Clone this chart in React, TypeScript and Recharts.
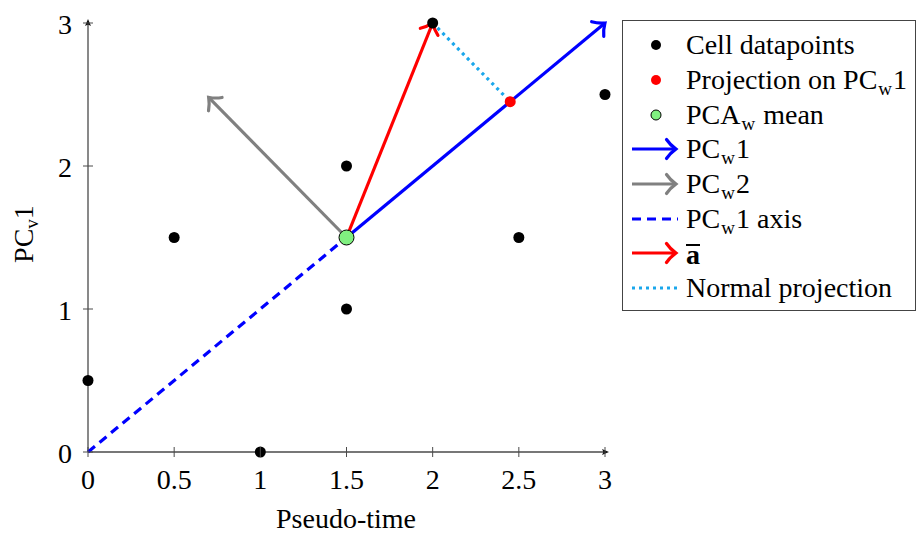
import { ComposedChart, XAxis, YAxis, Scatter, ReferenceLine } from 'recharts'

// cell datapoints
const cellX = [0, 0.5, 1, 1.5, 1.5, 2, 2.5, 3]
const cellY = [0.5, 1.5, 0, 1, 2, 3, 1.5, 2.5]

const meanPoint = [1.5, 1.5]
const projPoint = [2.45, 2.45]
const pc1Tip = [3, 3]
const pc2Tip = [0.7, 2.48]
const aBarTip = [2, 3]
const axisStart = [0, 0]

const xTicks = [0, 0.5, 1, 1.5, 2, 2.5, 3]
const yTicks = [0, 1, 2, 3]

const FONT = '"Times New Roman", "Liberation Serif", serif'
const FS = 28
const SUB = 19
const BLUE = '#0000ff'
const GRAY = '#808080'
const RED = '#ff0000'
const CYAN = '#1aa7ec'
const GREEN = '#80f080'
const AXIS = '#4a4a4a'

const cells = cellX.map((x, i) => ({ x, y: cellY[i] }))
const mean = [{ x: meanPoint[0], y: meanPoint[1] }]
const proj = [{ x: projPoint[0], y: projPoint[1] }]

function Head({ x, y, angle, color, s = 9.5, w = 3.2 }: any) {
  const d = `M ${-s} ${-s} C ${-s * 0.55} ${-s * 0.35} ${-s * 0.1} ${-s * 0.08} 0 0 C ${-s * 0.1} ${s * 0.08} ${-s * 0.55} ${s * 0.35} ${-s} ${s}`
  return (
    <path
      d={d}
      transform={`translate(${x},${y}) rotate(${(angle * 180) / Math.PI})`}
      fill="none"
      stroke={color}
      strokeWidth={w}
      strokeLinecap="round"
    />
  )
}

const arrowShape = (color: string) => (p: any) => {
  const { x1, y1, x2, y2 } = p
  const a = Math.atan2(y2 - y1, x2 - x1)
  return (
    <g>
      <line x1={x1} y1={y1} x2={x2} y2={y2} stroke={color} strokeWidth={3.2} />
      <Head x={x2} y={y2} angle={a} color={color} />
    </g>
  )
}

const plainShape = (color: string, dash: string) => (p: any) => (
  <line x1={p.x1} y1={p.y1} x2={p.x2} y2={p.y2} stroke={color} strokeWidth={3.2} strokeDasharray={dash} />
)

const axisShape = (p: any) => {
  const { x1, y1, x2, y2 } = p
  const a = Math.atan2(y2 - y1, x2 - x1)
  const ex = x2 + Math.cos(a) * 4
  const ey = y2 + Math.sin(a) * 4
  const deg = (a * 180) / Math.PI
  return (
    <g>
      <line x1={x1} y1={y1} x2={ex - Math.cos(a) * 3} y2={ey - Math.sin(a) * 3} stroke={AXIS} strokeWidth={1.3} />
      <path d="M 0 0 L -7 -3 L -5.5 0 L -7 3 Z" transform={`translate(${ex},${ey}) rotate(${deg})`} fill="#111" />
    </g>
  )
}

const XTick = ({ x, y, payload }: any) => (
  <g>
    <line x1={x} y1={y - 5} x2={x} y2={y + 5} stroke={AXIS} strokeWidth={1} />
    <text x={x} y={y + 37} textAnchor="middle" fontSize={FS} fontFamily={FONT} fill="#000">
      {payload.value}
    </text>
  </g>
)

const YTick = ({ x, y, payload }: any) => (
  <g>
    <line x1={x - 5} y1={y} x2={x + 5} y2={y} stroke={AXIS} strokeWidth={1} />
    <text x={x - 16} y={y + 11} textAnchor="end" fontSize={FS} fontFamily={FONT} fill="#000">
      {payload.value}
    </text>
  </g>
)

const dot = (fill: string, r: number, stroke = 'none') => (p: any) => (
  <circle cx={p.cx} cy={p.cy} r={r} fill={fill} stroke={stroke} strokeWidth={1} />
)

const Sub = ({ children }: any) => (
  <span style={{ fontSize: SUB, position: 'relative', top: 6, margin: '0 1px' }}>{children}</span>
)

const BarA = () => (
  <span
    style={{
      display: 'inline-block',
      fontWeight: 'bold',
      lineHeight: '16px',
      borderTop: '2px solid #000',
      paddingTop: 1,
      position: 'relative',
      top: 2,
    }}
  >
    a
  </span>
)

const legendRows: { marker: any; label: any }[] = [
  { marker: 'dot-black', label: <>Cell datapoints</> },
  { marker: 'dot-red', label: <>Projection on PC<Sub>w</Sub>1</> },
  { marker: 'dot-green', label: <>PCA<Sub>w</Sub> mean</> },
  { marker: 'arrow-blue', label: <>PC<Sub>w</Sub>1</> },
  { marker: 'arrow-gray', label: <>PC<Sub>w</Sub>2</> },
  { marker: 'dash-blue', label: <>PC<Sub>w</Sub>1 axis</> },
  { marker: 'arrow-red', label: <BarA /> },
  { marker: 'dot-cyan', label: <>Normal projection</> },
]

function Marker({ kind }: { kind: string }) {
  let el: any = null
  if (kind === 'dot-black') el = <circle cx={24} cy={10} r={5} fill="#000" />
  if (kind === 'dot-red') el = <circle cx={24} cy={10} r={5} fill={RED} />
  if (kind === 'dot-green') el = <circle cx={24} cy={10} r={5} fill={GREEN} stroke="#000" strokeWidth={1} />
  const arrow = (c: string) => (
    <g>
      <line x1={0} y1={10} x2={44} y2={10} stroke={c} strokeWidth={3.2} />
      <Head x={44} y={10} angle={0} color={c} />
    </g>
  )
  if (kind === 'arrow-blue') el = arrow(BLUE)
  if (kind === 'arrow-gray') el = arrow(GRAY)
  if (kind === 'arrow-red') el = arrow(RED)
  if (kind === 'dash-blue') el = <line x1={0} y1={10} x2={46} y2={10} stroke={BLUE} strokeWidth={3.2} strokeDasharray="9 6" />
  if (kind === 'dot-cyan') el = <line x1={0} y1={10} x2={46} y2={10} stroke={CYAN} strokeWidth={3.2} strokeDasharray="3 4" />
  return (
    <svg width={46} height={20} style={{ overflow: 'visible', marginRight: 8, flexShrink: 0 }}>
      {el}
    </svg>
  )
}

export default function App() {
  return (
    <div style={{ position: 'absolute', left: 0, top: 0, width: 917, height: 534, background: '#fff' }}>
      <ComposedChart width={917} height={534} margin={{ top: 23, right: 312, bottom: 22, left: 28 }}>
        <XAxis
          type="number"
          dataKey="x"
          domain={[0, 3]}
          ticks={xTicks}
          axisLine={false}
          tickLine={false}
          tickSize={0}
          tickMargin={0}
          tick={<XTick />}
          height={60}
          interval={0}
        />
        <YAxis
          type="number"
          dataKey="y"
          domain={[0, 3]}
          ticks={yTicks}
          axisLine={false}
          tickLine={false}
          tickSize={0}
          tickMargin={0}
          tick={<YTick />}
          width={60}
          interval={0}
        />
        <ReferenceLine segment={[{ x: 0, y: 0 }, { x: 3, y: 0 }]} shape={axisShape} ifOverflow="visible" />
        <ReferenceLine segment={[{ x: 0, y: 0 }, { x: 0, y: 3 }]} shape={axisShape} ifOverflow="visible" />
        <ReferenceLine
          segment={[{ x: axisStart[0], y: axisStart[1] }, { x: meanPoint[0], y: meanPoint[1] }]}
          shape={plainShape(BLUE, '9 6')}
          ifOverflow="visible"
        />
        <ReferenceLine
          segment={[{ x: meanPoint[0], y: meanPoint[1] }, { x: pc2Tip[0], y: pc2Tip[1] }]}
          shape={arrowShape(GRAY)}
          ifOverflow="visible"
        />
        <ReferenceLine
          segment={[{ x: meanPoint[0], y: meanPoint[1] }, { x: aBarTip[0], y: aBarTip[1] }]}
          shape={arrowShape(RED)}
          ifOverflow="visible"
        />
        <ReferenceLine
          segment={[{ x: meanPoint[0], y: meanPoint[1] }, { x: pc1Tip[0], y: pc1Tip[1] }]}
          shape={arrowShape(BLUE)}
          ifOverflow="visible"
        />
        <ReferenceLine
          segment={[{ x: aBarTip[0], y: aBarTip[1] }, { x: projPoint[0], y: projPoint[1] }]}
          shape={plainShape(CYAN, '3 4')}
          ifOverflow="visible"
        />
        <Scatter data={cells} shape={dot('#000', 5.5)} isAnimationActive={false} />
        <Scatter data={proj} shape={dot(RED, 5.5)} isAnimationActive={false} />
        <Scatter data={mean} shape={dot(GREEN, 7.5, '#000')} isAnimationActive={false} />
        <text x={346} y={528} textAnchor="middle" fontSize={FS} fontFamily={FONT} fill="#000">
          Pseudo-time
        </text>
        <text transform="translate(33,234) rotate(-90)" textAnchor="middle" fontSize={FS} fontFamily={FONT} fill="#000">
          <tspan>PC</tspan>
          <tspan fontSize={SUB} dy={5}>v</tspan>
          <tspan dy={-5}>1</tspan>
        </text>
      </ComposedChart>
      <div
        style={{
          position: 'absolute',
          left: 622,
          top: 20,
          width: 294,
          height: 291,
          border: '1px solid #444',
          boxSizing: 'border-box',
          fontFamily: FONT,
          fontSize: FS,
          paddingTop: 7,
          paddingLeft: 9,
        }}
      >
        {legendRows.map((r, i) => (
          <div key={i} style={{ display: 'flex', alignItems: 'center', height: 34.7, whiteSpace: 'nowrap' }}>
            <Marker kind={r.marker} />
            <span>{r.label}</span>
          </div>
        ))}
      </div>
    </div>
  )
}
